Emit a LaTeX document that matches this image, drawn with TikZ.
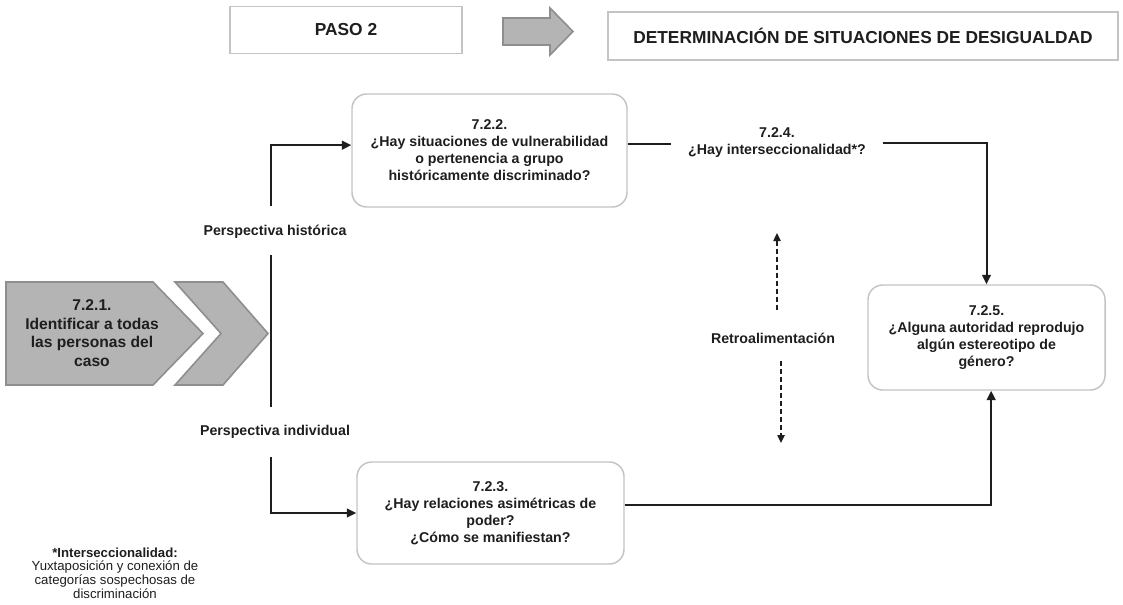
\documentclass[tikz,border=0pt]{standalone}
\usepackage{fontspec}
\setmainfont{Liberation Sans}
\usetikzlibrary{arrows.meta}

\definecolor{ink}{HTML}{1E1E1E}
\definecolor{boxline}{HTML}{C4C4C4}
\definecolor{chevfill}{HTML}{B4B4B4}
\definecolor{chevline}{HTML}{8E8E8E}

\begin{document}
\begin{tikzpicture}[
  x=0.75pt, y=-0.75pt,
  headbox/.style={draw=boxline, line width=1.1pt, fill=white, inner sep=0pt,
    text=ink, font=\bfseries\fontsize{13}{15}\selectfont},
  qbox/.style={draw=boxline, line width=1.1pt, rounded corners=11pt, fill=white,
    inner sep=0pt, align=center, text=ink,
    font=\bfseries\fontsize{10.65}{12.75}\selectfont},
  lbl/.style={text=ink, align=center, inner sep=0pt,
    font=\bfseries\fontsize{10.65}{12.75}\selectfont},
  flow/.style={draw=ink, line width=1.5pt},
  arr/.style={flow, -{Triangle[length=7pt,width=6.5pt]}},
  feedback/.style={draw=ink, line width=1pt, dash pattern=on 3.5pt off 2.5pt,
    -{Triangle[length=6pt,width=5.5pt]}},
  chev/.style={fill=chevfill, draw=chevline, line width=1.2pt, line join=miter}
]
\useasboundingbox (0,0) rectangle (1123,604);

% header
\node[headbox, minimum width=174pt, minimum height=35.25pt] (paso) at (346,30) {PASO 2};
\node[headbox, minimum width=382.5pt, minimum height=36pt] (titulo) at (863,36)
  {DETERMINACIÓN DE SITUACIONES DE DESIGUALDAD};
\draw[chev] (503,18) -- (550,18) -- (550,8) -- (573,31.5) -- (550,55) -- (550,45)
  -- (503,45) -- cycle;

% starting chevrons
\draw[chev] (6,282) -- (153,282) -- (203,333.5) -- (153,385) -- (6,385) -- cycle;
\draw[chev] (175,282) -- (223,282) -- (268,333.5) -- (223,385) -- (175,385)
  -- (221,333.5) -- cycle;
\node[lbl, font=\bfseries\fontsize{11.7}{13.9}\selectfont] (n721) at (92,333)
  {7.2.1.\\Identificar a todas\\las personas del\\caso};

% trunk and perspective labels
\coordinate (trunkA) at (271,255);
\coordinate (trunkB) at (271,407);
\draw[flow] (trunkA) -- (trunkB);
\node[lbl] (hist) at (275,232) {Perspectiva histórica};
\node[lbl] (indiv) at (275,432) {Perspectiva individual};
\coordinate (upstart) at (271,206);
\coordinate (lowstart) at (271,457);

% question boxes
\node[qbox, minimum width=206.25pt, minimum height=84.75pt] (n722) at (489.5,150.5)
  {7.2.2.\\¿Hay situaciones de vulnerabilidad\\o pertenencia a grupo\\históricamente discriminado?};
\node[qbox, minimum width=200.25pt, minimum height=76.5pt] (n723) at (490.5,513)
  {7.2.3.\\¿Hay relaciones asimétricas de\\poder?\\¿Cómo se manifiestan?};
\node[lbl, minimum width=158pt] (n724) at (777,143)
  {7.2.4.\\¿Hay interseccionalidad*?};
\node[qbox, minimum width=177.75pt, minimum height=78.75pt] (n725) at (986.5,337.5)
  {7.2.5.\\¿Alguna autoridad reprodujo\\algún estereotipo de\\género?};

% flow connectors
\draw[arr] (upstart) |- ([yshift=4pt]n722.west);
\draw[flow] ([yshift=5pt]n722.east) -- ([yshift=5pt]n722.east -| n724.west);
\draw[arr] (n724.east) -| (n725.north);
\draw[arr] (lowstart) |- (n723.west);
\draw[arr] ([yshift=6pt]n723.east) -| ([xshift=3.5pt]n725.south);

% feedback
\node[lbl] (retro) at (773,338) {Retroalimentación};
\coordinate (fbUpA) at (777,310);
\coordinate (fbUpB) at (777,233);
\coordinate (fbDnA) at (781,361);
\coordinate (fbDnB) at (781,443);
\draw[feedback] (fbUpA) -- (fbUpB);
\draw[feedback] (fbDnA) -- (fbDnB);

% footnote
\node[text=ink, align=center, inner sep=0pt, font=\fontsize{9.9}{10.3}\selectfont]
  (nota) at (115,573)
  {\textbf{*Interseccionalidad:}\\Yuxtaposición y conexión de\\categorías sospechosas de\\discriminación};
\end{tikzpicture}
\end{document}
